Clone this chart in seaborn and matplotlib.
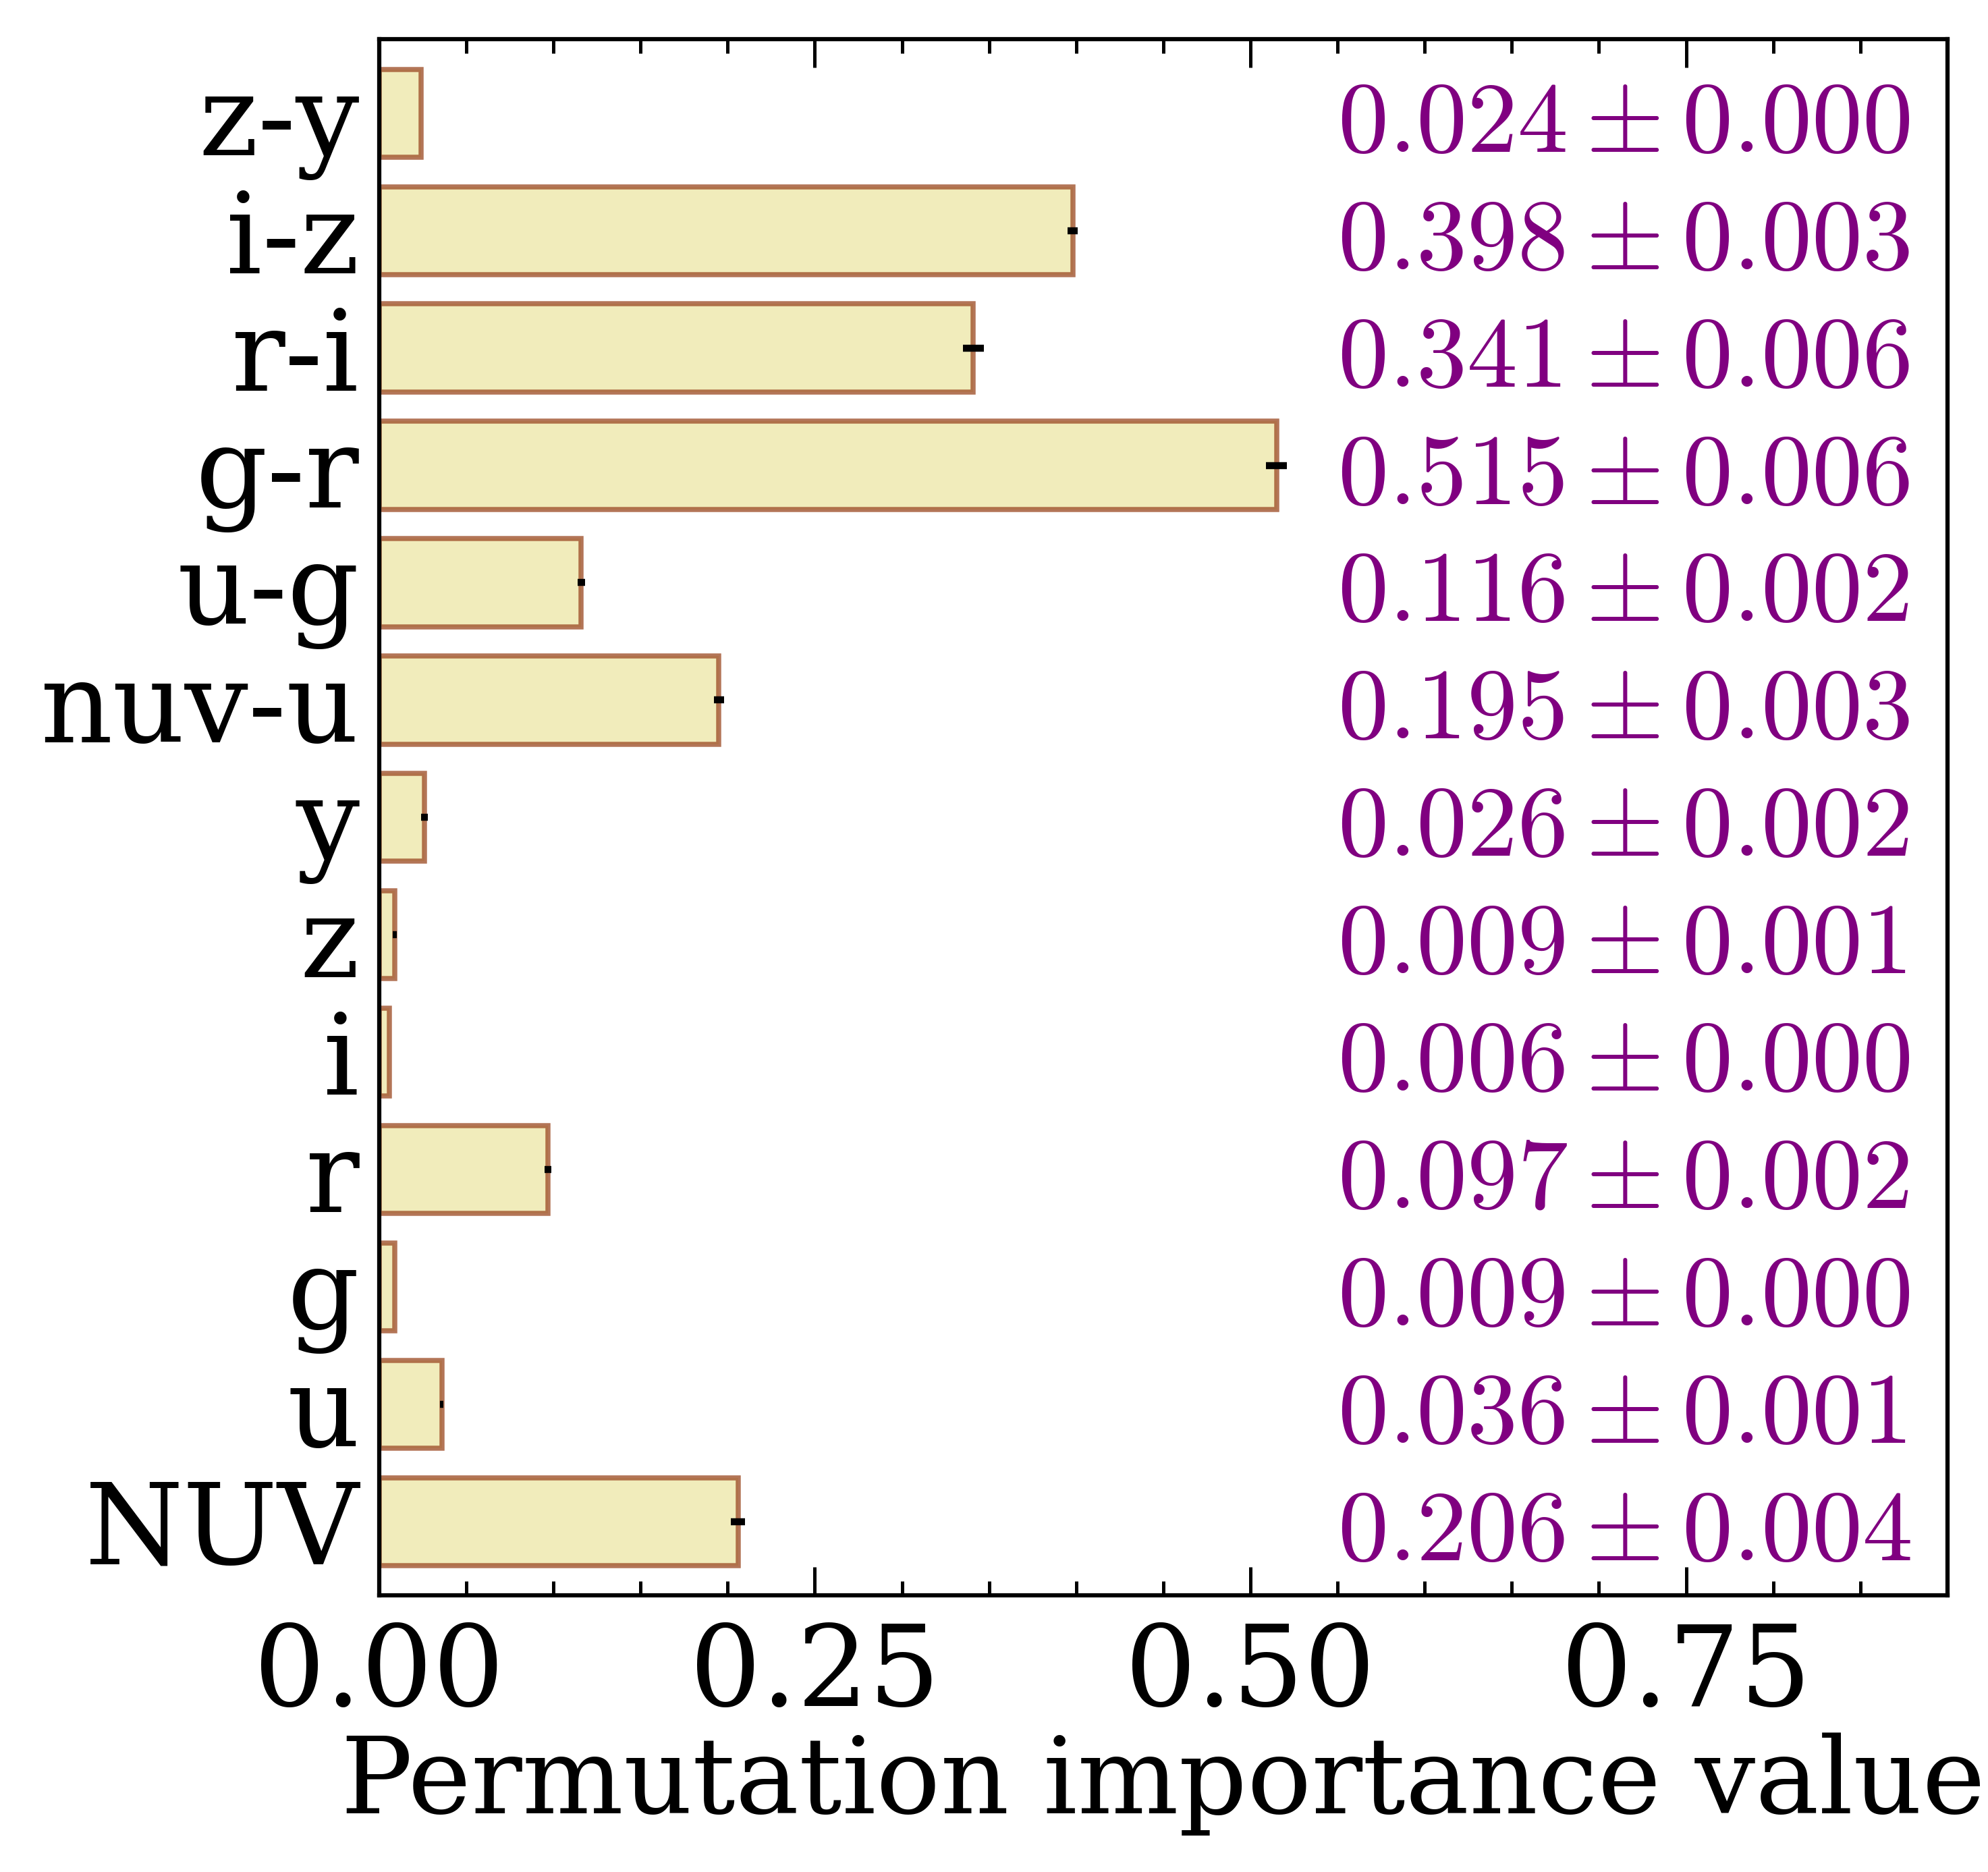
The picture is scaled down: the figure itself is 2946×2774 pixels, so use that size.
import numpy as np
import matplotlib
matplotlib.use("Agg")
import matplotlib.pyplot as plt
from matplotlib.ticker import MultipleLocator
import seaborn as sns

# permutation importance per feature (top to bottom as drawn)
features = ["z-y", "i-z", "r-i", "g-r", "u-g", "nuv-u", "y", "z", "i", "r", "g", "u", "NUV"]
importance_mean = [0.024, 0.398, 0.341, 0.515, 0.116, 0.195, 0.026, 0.009, 0.006, 0.097, 0.009, 0.036, 0.206]
importance_std = [0.000, 0.003, 0.006, 0.006, 0.002, 0.003, 0.002, 0.001, 0.000, 0.002, 0.000, 0.001, 0.004]

sns.set_style("white")
plt.rcParams["font.family"] = ["DejaVu Serif"]
plt.rcParams["mathtext.fontset"] = "cm"
plt.rcParams["text.color"] = "black"
plt.rcParams["axes.labelcolor"] = "black"
plt.rcParams["xtick.color"] = "black"
plt.rcParams["ytick.color"] = "black"

fig = plt.figure(figsize=(2946 / 300, 2774 / 300), dpi=300)
ax = fig.add_axes([0.1907, 0.1477, 0.7889, 0.8313])

sns.barplot(
    x=importance_mean, y=features, orient="h", ax=ax,
    color="palegoldenrod", saturation=1, alpha=0.8,
    edgecolor="sienna", linewidth=1.8, width=0.75, errorbar=None,
)
pos = np.arange(len(features))
ax.errorbar(importance_mean, pos, xerr=importance_std, fmt="none",
            ecolor="black", elinewidth=2.5, capsize=0)

for i, (m, s) in enumerate(zip(importance_mean, importance_std)):
    ax.text(0.55, i, rf"${m:.3f} \pm {s:.3f}$", color="purple",
            fontsize=36, va="center_baseline", ha="left")

ax.set_xlim(0, 0.9)
ax.set_ylim(len(features) - 1 + 0.63, -0.63)
ax.xaxis.set_major_locator(MultipleLocator(0.25))
ax.xaxis.set_minor_locator(MultipleLocator(0.05))
ax.tick_params(axis="x", which="both", direction="in", top=True, bottom=True,
               labelsize=40, pad=9)
ax.tick_params(axis="x", which="major", length=10, width=1.2)
ax.tick_params(axis="x", which="minor", length=5, width=1.2)
ax.tick_params(axis="y", length=0, labelsize=40, pad=7)
for sp in ax.spines.values():
    sp.set_linewidth(1.5)
    sp.set_color("black")

ax.set_xlabel("Permutation importance value", fontsize=38, labelpad=1)
ax.set_ylabel("")

fig.savefig("out.png", dpi=300)
